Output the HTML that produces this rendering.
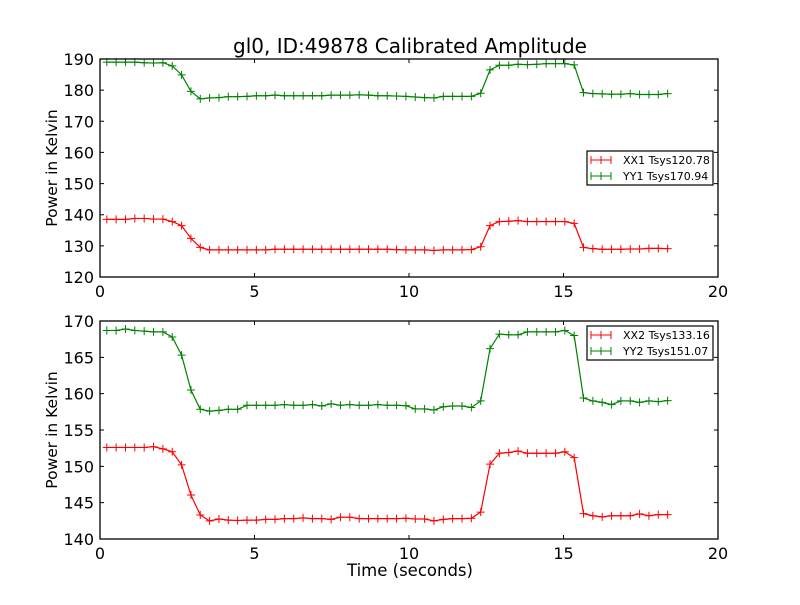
<!DOCTYPE html>
<html><head><meta charset="utf-8"><style>
html,body{margin:0;padding:0;background:#fff;}
svg text{font-family:"DejaVu Sans","Liberation Sans",sans-serif;fill:#000;}
</style></head><body>
<svg id="chart" width="800" height="600" viewBox="0 0 800 600" xmlns="http://www.w3.org/2000/svg">
<rect x="0" y="0" width="800" height="600" fill="#fff"/>
<text x="410" y="53" font-size="20" text-anchor="middle">gl0, ID:49878 Calibrated Amplitude</text>
<g id="top"></g>
<g id="bot"></g>
<text x="410" y="576" font-size="16.5" text-anchor="middle">Time (seconds)</text>
</svg>
<script>
const times = [];
for (let i = 0; i < 61; i++) times.push(+(0.22 + 0.3025 * i).toFixed(3));
const xx1 = [138.5,138.5,138.5,138.8,138.8,138.6,138.6,137.8,136.5,132.4,129.5,128.7,128.7,128.7,128.7,128.7,128.7,128.7,128.9,128.9,128.9,128.9,128.9,128.9,128.9,128.9,128.9,128.9,128.9,128.9,128.9,128.8,128.7,128.7,128.7,128.5,128.7,128.7,128.7,128.8,129.7,136.5,137.8,137.9,138.1,137.8,137.8,137.8,137.8,137.8,137.2,129.5,129.1,128.9,128.9,128.9,129.0,129.0,129.2,129.2,129.1];
const yy1 = [189.0,189.0,189.0,189.0,188.8,188.7,188.8,187.8,184.9,179.6,177.2,177.5,177.6,177.9,177.9,178.0,178.2,178.2,178.4,178.2,178.2,178.2,178.2,178.2,178.4,178.4,178.4,178.5,178.4,178.2,178.2,178.1,178.0,177.8,177.6,177.5,178.0,178.0,178.0,178.0,179.0,186.5,188.0,188.0,188.3,188.2,188.3,188.5,188.5,188.5,188.1,179.2,178.9,178.8,178.7,178.7,178.9,178.6,178.6,178.6,178.9];
const xx2 = [152.6,152.6,152.6,152.6,152.6,152.7,152.4,152.0,150.2,146.05,143.3,142.5,142.75,142.6,142.55,142.6,142.6,142.7,142.7,142.8,142.8,142.9,142.8,142.8,142.7,143.0,143.0,142.8,142.8,142.8,142.8,142.8,142.85,142.75,142.75,142.5,142.7,142.8,142.8,142.85,143.7,150.3,151.8,151.9,152.1,151.8,151.8,151.8,151.8,152.0,151.2,143.5,143.2,143.05,143.2,143.2,143.2,143.45,143.2,143.35,143.35];
const yy2 = [168.7,168.7,168.9,168.7,168.6,168.5,168.5,167.8,165.3,160.5,157.85,157.6,157.7,157.85,157.85,158.4,158.4,158.4,158.4,158.5,158.4,158.4,158.5,158.3,158.6,158.4,158.5,158.4,158.4,158.5,158.4,158.4,158.35,157.9,157.9,157.75,158.2,158.3,158.3,158.1,159.0,166.2,168.2,168.1,168.1,168.5,168.5,168.5,168.5,168.7,168.0,159.4,159.0,158.8,158.5,159.0,159.0,158.8,159.0,158.9,159.05];
const xTicks = [0,5,10,15,20];
const topYTicks = [120,130,140,150,160,170,180,190];
const botYTicks = [140,145,150,155,160,165,170];
const topLegend = ["XX1 Tsys120.78","YY1 Tsys170.94"];
const botLegend = ["XX2 Tsys133.16","YY2 Tsys151.07"];

const NS = "http://www.w3.org/2000/svg";
function mk(tag, attrs, parent){const e=document.createElementNS(NS,tag);for(const k in attrs)e.setAttribute(k,attrs[k]);parent.appendChild(e);return e;}

function panel(g, top, bottom, ymin, ymax, yTicks, s1, s2, legend, ly){
  const L=100,R=718;
  const xs=t=>L+(t-0)/(20-0)*(R-L);
  const ys=v=>bottom-(v-ymin)/(ymax-ymin)*(bottom-top);
  [[s1,'#ff0000','xx'],[s2,'#008000','yy']].forEach(([s,c,n])=>{
    const pts=s.map((v,i)=>xs(times[i]).toFixed(2)+','+ys(v).toFixed(2)).join(' ');
    const pl=mk('polyline',{points:pts,fill:'none',stroke:c,'stroke-width':1.2},g);
    
    
    s.forEach((v,i)=>{
      const x=xs(times[i]),y=ys(v);
      const p=mk('path',{d:`M${x-4},${y}H${x+4}M${x},${y-4}V${y+4}`,stroke:c,'stroke-width':1},g);
      
      
    });
  });
  const fr=mk('rect',{x:L,y:top,width:R-L,height:bottom-top,fill:'none',stroke:'#000','stroke-width':1.3},g);
  
  
  xTicks.forEach(t=>{
    const x=xs(t);
    mk('path',{d:`M${x},${bottom}v-4M${x},${top}v4`,stroke:'#000'},g);
    const tx=mk('text',{x:x,y:bottom+20,'font-size':16,'text-anchor':'middle'},g);
    tx.textContent=t;
    
    
  });
  yTicks.forEach(v=>{
    const y=ys(v);
    mk('path',{d:`M${L},${y}h4M${R},${y}h-4`,stroke:'#000'},g);
    const tx=mk('text',{x:L-6,y:y+6,'font-size':16,'text-anchor':'end'},g);
    tx.textContent=v;
    
    
  });
  const yt=mk('text',{x:0,y:0,'font-size':15.5,'text-anchor':'middle',transform:`translate(57,${(top+bottom)/2}) rotate(-90)`},g);
  yt.textContent='Power in Kelvin';
  
  
  const lg=mk('g',{},g);
  
  
  mk('rect',{x:587,y:ly,width:126,height:34,fill:'#fff',stroke:'#000','stroke-width':1.2},lg);
  ['#ff0000','#008000'].forEach((c,k)=>{
    const yy=ly+9+k*16;
    mk('path',{d:`M591,${yy}h20M601,${yy-4}v8M591,${yy-4}v8M611,${yy-4}v8`,stroke:c,'stroke-width':1},lg);
    const tx=mk('text',{x:623,y:yy+4,'font-size':11},lg);
    tx.textContent=legend[k];
    
    
  });
}
panel(document.getElementById('top'),59,277,120,190,topYTicks,xx1,yy1,topLegend,151);
panel(document.getElementById('bot'),321,539,140,170,botYTicks,xx2,yy2,botLegend,326);
</script>
</body></html>
